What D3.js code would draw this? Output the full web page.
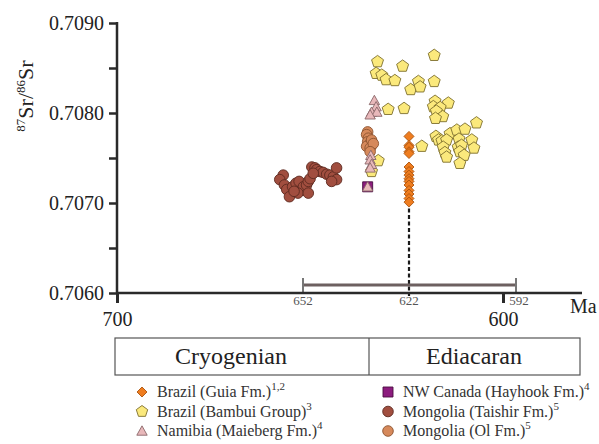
<!DOCTYPE html>
<html>
<head>
<meta charset="utf-8">
<script src="https://cdn.jsdelivr.net/npm/d3@7/dist/d3.min.js"></script>
<style>
  body { margin: 0; background: #fff; }
  svg { display: block; }
</style>
</head>
<body>
<svg id="chart" width="599" height="444"></svg>
<script>
// ---- data: [age (Ma), 87Sr/86Sr] ----
const guiaAge = 622;
const guiaSr = [0.70774, 0.70764, 0.70762, 0.70757, 0.70755, 0.70740, 0.70735,
  0.70731, 0.70727, 0.70724, 0.70720, 0.70714, 0.70710, 0.70705, 0.70701];

const bambui = [
  [630.9, 0.70857], [623.8, 0.70852], [631.3, 0.70844], [629.7, 0.70842], [628.5, 0.70837],
  [626.0, 0.70836], [621.6, 0.70826], [619.8, 0.70835], [619.4, 0.70829], [616.1, 0.70835],
  [616.1, 0.70864], [627.9, 0.70804], [623.4, 0.70805], [615.9, 0.70813], [616.3, 0.70807],
  [612.8, 0.70811], [614.7, 0.70806], [615.6, 0.70802], [614.1, 0.70796], [615.8, 0.70794],
  [606.2, 0.70789], [615.7, 0.70774], [612.4, 0.70777], [610.8, 0.70781], [608.9, 0.70782],
  [615.1, 0.70770], [614.3, 0.70769], [613.2, 0.70770], [610.3, 0.70771], [607.3, 0.70770],
  [606.8, 0.70761], [614.0, 0.70762], [613.6, 0.70756], [613.2, 0.70751], [610.5, 0.70762],
  [609.7, 0.70764], [610.1, 0.70757], [609.1, 0.70753], [610.1, 0.70744], [619.0, 0.70763],
  [630.7, 0.70747], [632.6, 0.70735]
];

const namibia = [
  [631.8, 0.70814], [631.3, 0.70807], [632.6, 0.70801], [631.1, 0.70801], [633.0, 0.70798],
  [632.8, 0.70753], [633.0, 0.70748], [632.6, 0.70743], [633.0, 0.70739], [633.7, 0.70718]
];

const hayhook = [[633.7, 0.70718]];

const taishir = [
  [657.1, 0.70731], [658.0, 0.70726], [656.8, 0.70720], [656.2, 0.70715], [655.5, 0.70707],
  [654.7, 0.70718], [653.8, 0.70722], [653.0, 0.70724], [652.4, 0.70714], [651.9, 0.70718],
  [651.0, 0.70720], [650.5, 0.70724], [650.0, 0.70727], [649.5, 0.70740], [648.6, 0.70739],
  [648.1, 0.70737], [647.2, 0.70735], [646.3, 0.70734], [645.3, 0.70732], [644.4, 0.70731],
  [643.4, 0.70729], [642.5, 0.70739], [642.5, 0.70726], [653.3, 0.70711], [654.3, 0.70713],
  [650.5, 0.70711], [649.1, 0.70733], [643.9, 0.70724]
];

const olFm = [
  [633.7, 0.70779], [634.0, 0.70776], [633.5, 0.70772], [633.7, 0.70768], [633.0, 0.70766],
  [632.6, 0.70764], [634.0, 0.70763], [633.0, 0.70761], [632.6, 0.70770], [632.1, 0.70766],
  [633.0, 0.70757]
];

// age range bar with the central estimate
const rangeStart = 652, rangeMid = 622, rangeEnd = 592;

// axis ticks
const yTicks = [0.7060, 0.7065, 0.7070, 0.7075, 0.7080, 0.7085, 0.7090];
const yLabelled = [0.7060, 0.7070, 0.7080, 0.7090];
const xTicks = [700, 600];
const periods = ["Cryogenian", "Ediacaran"];

// ---- drawing ----
const svg = d3.select("#chart");
const serif = "'Liberation Serif', 'Times New Roman', serif";
const axisColor = "#2a2a2a";

// the time axis is schematic: piecewise-linear through the annotated ages
const x = d3.scaleLinear()
  .domain([700, 652, 622, 600, 592])
  .range([117, 303, 409, 503, 516]);
const y = d3.scaleLinear().domain([0.7060, 0.7090]).range([293, 23]);
const xAxisEnd = 582;

// marker shapes
function shape(type, r) {
  switch (type) {
    case "diamond":
      return `M0,${-r}L${r},0L0,${r}L${-r},0Z`;
    case "pentagon": {
      const pts = d3.range(5).map(i => {
        const a = -Math.PI / 2 + i * 2 * Math.PI / 5;
        return [r * Math.cos(a), r * Math.sin(a)];
      });
      return "M" + pts.map(p => p.join(",")).join("L") + "Z";
    }
    case "triangle": {
      const h = r * 1.8;
      return `M0,${-h * 0.55}L${r},${h * 0.45}L${-r},${h * 0.45}Z`;
    }
    case "square":
      return `M${-r},${-r}H${r}V${r}H${-r}Z`;
    default:
      return d3.arc()({ innerRadius: 0, outerRadius: r, startAngle: 0, endAngle: 2 * Math.PI });
  }
}

const styles = {
  guia:    { type: "diamond",  r: 5,   fill: "#ef7d1f", stroke: "#a9530f" },
  bambui:  { type: "pentagon", r: 6.3, fill: "#fbe97c", stroke: "#7d6e2c" },
  namibia: { type: "triangle", r: 5.2, fill: "#e8b8ba", stroke: "#8a686a" },
  hayhook: { type: "square",   r: 5,   fill: "#8c1c7e", stroke: "#4a0e42" },
  taishir: { type: "circle",   r: 5.3, fill: "#a14e3f", stroke: "#5e2a20" },
  ol:      { type: "circle",   r: 5.3, fill: "#d6895b", stroke: "#8c5330" }
};

// dashed line below the Guia column
svg.append("line")
  .attr("x1", x(guiaAge)).attr("x2", x(guiaAge))
  .attr("y1", y(d3.min(guiaSr))).attr("y2", y(0.7060) + 3)
  .attr("stroke", "#1a1a1a").attr("stroke-width", 2.2).attr("stroke-dasharray", "4,2.5");

// age range bar
const barY = y(0.7060) - 8;
svg.append("line")
  .attr("x1", x(rangeStart)).attr("x2", x(rangeEnd))
  .attr("y1", barY).attr("y2", barY)
  .attr("stroke", "#6d6060").attr("stroke-width", 3);
[rangeStart, rangeEnd].forEach(v => {
  svg.append("line")
    .attr("x1", x(v)).attr("x2", x(v))
    .attr("y1", barY - 7).attr("y2", barY + 7)
    .attr("stroke", "#777").attr("stroke-width", 2);
});
svg.selectAll("text.age")
  .data([rangeStart, rangeMid, rangeEnd])
  .join("text")
  .attr("class", "age")
  .attr("x", (d, i) => x(d) + (i === 2 ? 3 : 0))
  .attr("y", 305)
  .attr("text-anchor", "middle")
  .attr("font-family", serif).attr("font-size", 13).attr("fill", "#555")
  .text(d => d);

// axes
const yAxis = d3.axisLeft(y)
  .tickValues(yTicks)
  .tickSize(8).tickPadding(5)
  .tickFormat(d => yLabelled.some(v => Math.abs(v - d) < 1e-9) ? d3.format(".4f")(d) : "");
const gy = svg.append("g").attr("transform", `translate(${x(700)},0)`).call(yAxis);
gy.select(".domain").remove();
gy.selectAll(".tick line").attr("stroke", axisColor).attr("stroke-width", 2.5);
gy.selectAll(".tick text").attr("font-family", serif).attr("font-size", 20).attr("fill", "#222");
svg.append("line")
  .attr("x1", x(700)).attr("x2", x(700))
  .attr("y1", y(0.7090) - 1).attr("y2", y(0.7060))
  .attr("stroke", axisColor).attr("stroke-width", 2.5);

const xAxis = d3.axisBottom(x).tickValues(xTicks).tickSize(10).tickPadding(9).tickFormat(d3.format("d"));
const gx = svg.append("g").attr("transform", `translate(0,${y(0.7060)})`).call(xAxis);
gx.select(".domain").remove();
gx.selectAll(".tick line").attr("stroke", axisColor).attr("stroke-width", 3);
gx.selectAll(".tick text").attr("font-family", serif).attr("font-size", 20).attr("fill", "#222");
svg.append("line")
  .attr("x1", x(700) - 1).attr("x2", xAxisEnd)
  .attr("y1", y(0.7060)).attr("y2", y(0.7060))
  .attr("stroke", axisColor).attr("stroke-width", 2.5);

svg.append("text")
  .attr("x", 570).attr("y", 313)
  .attr("font-family", serif).attr("font-size", 20).attr("fill", "#222")
  .text("Ma");

// y axis title: 87Sr/86Sr
const yt = svg.append("text")
  .attr("transform", "translate(33,96) rotate(-90)")
  .attr("text-anchor", "middle")
  .attr("font-family", serif).attr("font-size", 22).attr("fill", "#222");
yt.append("tspan").attr("font-size", 13).attr("dy", -8).text("87");
yt.append("tspan").attr("dy", 8).text("Sr/");
yt.append("tspan").attr("font-size", 13).attr("dy", -8).text("86");
yt.append("tspan").attr("dy", 8).text("Sr");

// scatter series
function plot(data, st) {
  svg.append("g").selectAll("path")
    .data(data)
    .join("path")
    .attr("transform", d => `translate(${x(d[0])},${y(d[1])})`)
    .attr("d", shape(st.type, st.r))
    .attr("fill", st.fill)
    .attr("stroke", st.stroke)
    .attr("stroke-width", 0.9);
}
plot(bambui, styles.bambui);
plot(taishir, styles.taishir);
plot(olFm, styles.ol);
plot(hayhook, styles.hayhook);
plot(namibia, styles.namibia);
plot(guiaSr.map(v => [guiaAge, v]), styles.guia);

// period box
const boxTop = 338, boxBottom = 375, boxLeft = 115, boxRight = 580, boxDiv = 369;
svg.append("rect")
  .attr("x", boxLeft).attr("y", boxTop)
  .attr("width", boxRight - boxLeft).attr("height", boxBottom - boxTop)
  .attr("fill", "none").attr("stroke", "#555").attr("stroke-width", 1.2);
svg.append("line")
  .attr("x1", boxDiv).attr("x2", boxDiv).attr("y1", boxTop).attr("y2", boxBottom)
  .attr("stroke", "#555").attr("stroke-width", 1.2);
svg.selectAll("text.period")
  .data(periods)
  .join("text")
  .attr("class", "period")
  .attr("x", (d, i) => i === 0 ? 231 : 474)
  .attr("y", 364)
  .attr("text-anchor", "middle")
  .attr("font-family", serif).attr("font-size", 24).attr("fill", "#222")
  .text(d => d);

// legend
const legendItems = [
  { key: "guia",    label: "Brazil (Guia Fm.)",        sup: "1,2", col: 0, row: 0 },
  { key: "bambui",  label: "Brazil (Bambui Group)",    sup: "3",   col: 0, row: 1 },
  { key: "namibia", label: "Namibia (Maieberg Fm.)",   sup: "4",   col: 0, row: 2 },
  { key: "hayhook", label: "NW Canada (Hayhook Fm.)",  sup: "4",   col: 1, row: 0 },
  { key: "taishir", label: "Mongolia (Taishir Fm.)",   sup: "5",   col: 1, row: 1 },
  { key: "ol",      label: "Mongolia (Ol Fm.)",        sup: "5",   col: 1, row: 2 }
];
const legX = [142, 388], legY0 = 392, legDy = 19.5;
legendItems.forEach(it => {
  const st = styles[it.key];
  const cx = legX[it.col], cy = legY0 + it.row * legDy;
  svg.append("path")
    .attr("transform", `translate(${cx},${cy})`)
    .attr("d", shape(st.type, st.type === "pentagon" ? 6 : (st.type === "square" ? 5 : st.r)))
    .attr("fill", st.fill).attr("stroke", st.stroke).attr("stroke-width", 0.9);
  const t = svg.append("text")
    .attr("x", cx + 15).attr("y", cy + 5)
    .attr("font-family", serif).attr("font-size", 16).attr("fill", "#333");
  t.append("tspan").text(it.label);
  t.append("tspan").attr("font-size", 11).attr("dy", -7).text(it.sup);
});
</script>
</body>
</html>
